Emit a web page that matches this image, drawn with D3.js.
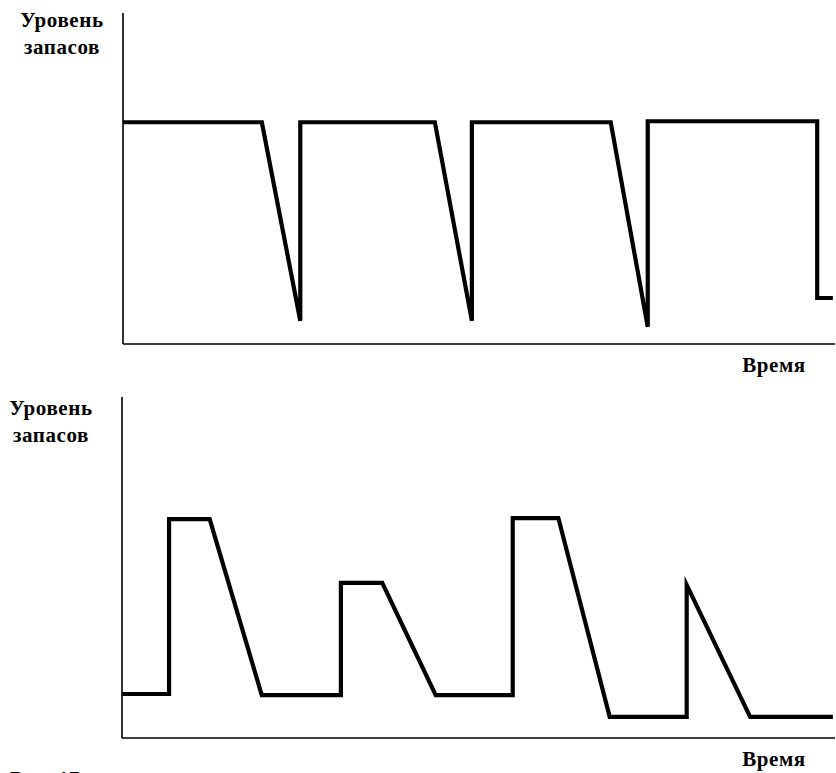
<!DOCTYPE html>
<html>
<head>
<meta charset="utf-8">
<script src="https://cdn.jsdelivr.net/npm/d3@7"></script>
<style>
body { margin: 0; background: white; }
svg { display: block; }
text { font-family: "Liberation Serif", serif; font-weight: bold; fill: black; letter-spacing: 0.6px; }
</style>
</head>
<body>
<svg width="836" height="773"></svg>
<script>
var svg = d3.select("svg");
var width = 836;
var height = 773;

// верхний график: время (0-100) и уровень запасов (0-100)
var topTime = [0, 19.5, 24.9, 24.9, 43.8, 49.0, 49.0, 68.5, 73.7, 73.7, 97.5, 97.5, 99.7];
var topLevel = [67, 67, 7, 67, 67, 7, 67, 67, 5.2, 67.3, 67.3, 13.9, 13.9];

// нижний график
var bottomTime = [0, 6.6, 6.6, 12.3, 19.6, 30.7, 30.7, 36.5, 44.0, 54.8, 54.8, 61.2, 68.4, 79.2, 79.2, 88.1, 99.7];
var bottomLevel = [12.9, 12.9, 64.2, 64.2, 12.6, 12.6, 45.5, 45.5, 12.6, 12.6, 64.5, 64.5, 6.2, 6.2, 44.9, 6.2, 6.2];

var yLabel = ["Уровень", "запасов"];
var xLabel = "Время";
var caption = "Рис. 17";

function tr(x, y) {
	return "translate(" + x + ", " + y + ")";
}

function zip(xs, ys) {
	return xs.map(function (x, i) { return [x, ys[i]]; });
}

function panel(left, top, bottom, times, levels, labelX, labelY, timeY) {
	var x = d3.scaleLinear().domain([0, 100]).range([left, 835]);
	var y = d3.scaleLinear().domain([0, 100]).range([bottom, top]);
	var g = svg.append("g");

	// оси без делений
	g.append("line")
	    .attr("x1", left).attr("y1", top)
	    .attr("x2", left).attr("y2", bottom)
	    .attr("stroke", "black").attr("stroke-width", 1.6);
	g.append("line")
	    .attr("x1", left).attr("y1", bottom)
	    .attr("x2", x(100)).attr("y2", bottom)
	    .attr("stroke", "black").attr("stroke-width", 1.6);

	var line = d3.line().x(function (d) { return x(d[0]); }).y(function (d) { return y(d[1]); });
	g.append("path")
	    .datum(zip(times, levels))
	    .attr("d", line)
	    .attr("fill", "none")
	    .attr("stroke", "black")
	    .attr("stroke-width", 4.2)
	    .attr("stroke-linejoin", "miter")
	    .attr("stroke-miterlimit", 10);

	g.selectAll(".ylab").data(yLabel).enter().append("text")
	    .attr("x", labelX)
	    .attr("y", function (d, i) { return labelY + i * 27; })
	    .attr("text-anchor", "middle")
	    .attr("font-size", 21)
	    .text(function (d) { return d; });

	g.append("text")
	    .attr("x", 774)
	    .attr("y", timeY)
	    .attr("text-anchor", "middle")
	    .attr("font-size", 21)
	    .text(xLabel);
}

panel(123, 13, 344, topTime, topLevel, 62, 27, 372);
panel(122, 397, 738, bottomTime, bottomLevel, 51, 415, 766);

// подпись рисунка, срезанная краем страницы, как в оригинале
svg.append("text")
    .attr("x", 10)
    .attr("y", 786)
    .attr("font-size", 21)
    .text(caption);
</script>
</body>
</html>
